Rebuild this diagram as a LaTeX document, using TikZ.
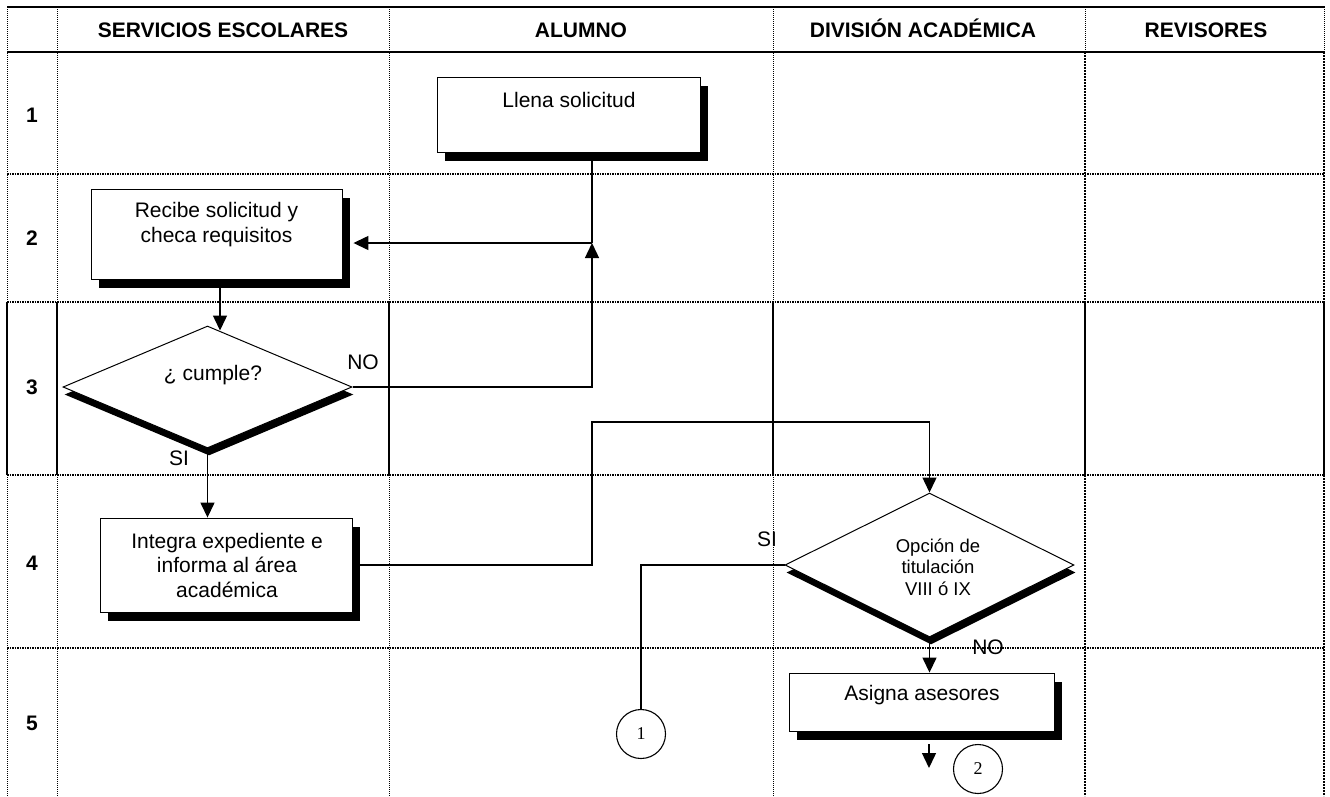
\documentclass[tikz,border=0pt]{standalone}
\usepackage{fontspec}
\setmainfont{Liberation Sans}
\newfontfamily\serifnum{Liberation Serif}
\usetikzlibrary{shapes.geometric,arrows.meta,shadows,calc}
\begin{document}
\begin{tikzpicture}[x=1pt,y=-1pt,
  txt/.style={font=\fontsize{21}{24.5}\selectfont, align=center, inner sep=0},
  smalltxt/.style={font=\fontsize{18.5}{21.5}\selectfont, align=center, inner sep=0},
  hdr/.style={font=\fontsize{21}{24}\selectfont\bfseries, inner sep=0, anchor=base},
  box/.style={draw, line width=0.9pt, fill=white, inner sep=0,
    drop shadow={shadow xshift=8pt, shadow yshift=-8.5pt, fill=black, opacity=1}},
  dia/.style={diamond, draw, line width=1pt, fill=white, inner sep=0,
    drop shadow={shadow xshift=1.5pt, shadow yshift=-7.5pt, fill=black, opacity=1}},
  conn/.style={circle, draw, line width=1.1pt, fill=white, minimum size=49pt, inner sep=0,
    font=\serifnum\fontsize{18}{18}\selectfont},
  arr/.style={line width=1.4pt, -{Triangle[length=15pt,width=14pt]}},
  ln/.style={line width=1.4pt},
  thickrule/.style={line width=2.2pt},
  dotv/.style={line width=1pt, dash pattern=on 1pt off 1pt},
  doth/.style={line width=1.2pt, dash pattern=on 1.5pt off 1pt},
  solidv/.style={line width=2pt},
  solidvb/.style={line width=2.8pt},
  dashv/.style={line width=2.2pt, dash pattern=on 2pt off 1pt},
]
\useasboundingbox (0,0) rectangle (1330,796);
% grid
\draw[thickrule] (7,7) -- (1325,7);
\draw[thickrule] (7,52) -- (1325,52);
\foreach \y in {174,302,475,648} \draw[doth] (7,\y) -- (1324,\y);
\foreach \x in {7,57,389,773} {
  \draw[dotv] (\x,7) -- (\x,302);
  \draw[solidv] (\x,302) -- (\x,475);
  \draw[dotv] (\x,475) -- (\x,796);
}
\foreach \x in {1085,1324} {
  \draw[dotv] (\x,7) -- (\x,52);
  \draw[dashv] (\x,52) -- (\x,302);
  \draw[solidvb] (\x,302) -- (\x,475);
  \draw[dashv] (\x,475) -- (\x,796);
}
% headers
\node[hdr] (h1) at (223,37.5) {SERVICIOS ESCOLARES};
\node[hdr] (h2) at (581,37.5) {ALUMNO};
\node[hdr] (h3) at (923,37.5) {DIVISIÓN ACADÉMICA};
\node[hdr] (h4) at (1206,37.5) {REVISORES};
\node[hdr] (r1) at (32,122.5) {1};
\node[hdr] (r2) at (32,245.5) {2};
\node[hdr] (r3) at (32,394.5) {3};
\node[hdr] (r4) at (32,570.5) {4};
\node[hdr] (r5) at (32,730.5) {5};
% shapes
\node[box, minimum width=263pt, minimum height=75pt] (llena) at (568.5,114.5) {};
\node[txt] (llenaT) at (569,100) {Llena solicitud};
\node[box, minimum width=251pt, minimum height=90pt] (recibe) at (216.5,234) {};
\node[txt] (recibeT) at (216.5,224.5) {Recibe solicitud y\\checa requisitos};
\node[dia, minimum width=289pt, minimum height=122pt] (d1) at (207.5,387) {};
\node[txt] (d1T) at (213,375) {¿ cumple?};
\node[box, minimum width=252pt, minimum height=94pt] (integra) at (226,565) {};
\node[txt] (integraT) at (227,565) {Integra expediente e\\informa al área\\académica};
\node[dia, minimum width=289pt, minimum height=144pt] (d2) at (929.5,565) {};
\node[smalltxt] (d2T) at (938,567) {Opción de\\titulación\\VIII ó IX};
\node[box, minimum width=265pt, minimum height=58pt] (asigna) at (921.5,702) {};
\node[txt] (asignaT) at (922,695) {Asigna asesores};
\node[conn] (c1) at (641,734) {1};
\node[conn] (c2) at (978,769) {2};
% labels
\node[txt] (no1) at (363,362) {NO};
\node[txt] (si1) at (179,458) {SI};
\node[txt] (si2) at (767,539) {SI};
\node[txt] (no2) at (988,647) {NO};
% connectors
\coordinate (j1) at (592,243);
\coordinate (k1) at (592,422);
\draw[ln] (llena.south -| j1) -- (j1);
\draw[arr] (j1) -- ([xshift=11pt]j1 -| recibe.east);
\draw[arr] (d1.east) -| (j1);
\draw[arr] ([xshift=12.5pt]d1.north |- recibe.south) -- ([xshift=12.5pt,yshift=-5pt]d1.north);
\draw[arr] (d1.south) -- (d1.south |- integra.north);
\draw[arr] (integra.east) -| (k1) -| (d2.north);
\draw[ln] (d2.west) -| (c1.north);
\draw[arr] (d2.south) -- (d2.south |- asigna.north);
\coordinate (a2s) at (929,744);
\coordinate (a2e) at (929,768);
\draw[arr] (a2s) -- (a2e);
\end{tikzpicture}
\end{document}
